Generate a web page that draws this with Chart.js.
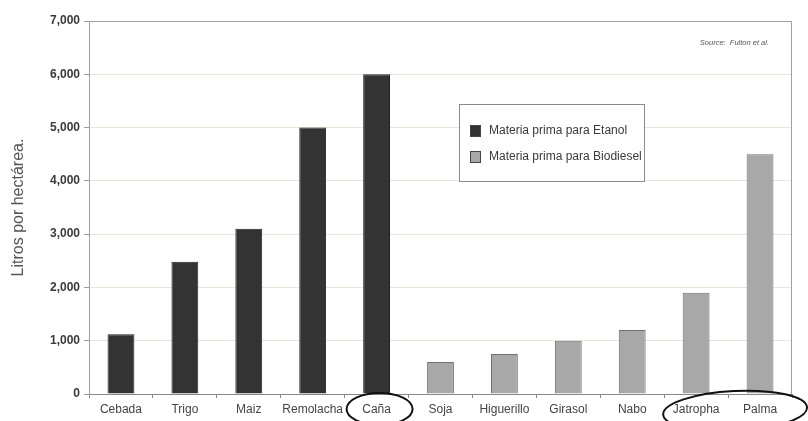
<!DOCTYPE html>
<html>
<head>
<meta charset="utf-8">
<script src="https://cdn.jsdelivr.net/npm/chart.js@4.4.1/dist/chart.umd.min.js"></script>
<style>
  html, body { margin: 0; padding: 0; background: #fff; }
  #wrap { width: 808px; height: 421px; }
</style>
</head>
<body>
<div id="wrap"><canvas id="mainChart" width="808" height="421"></canvas></div>
<script>
// Data
const cultivos = ['Cebada', 'Trigo', 'Maiz', 'Remolacha', 'Caña', 'Soja', 'Higuerillo', 'Girasol', 'Nabo', 'Jatropha', 'Palma'];
const etanol = [1120, 2480, 3100, 5000, 6000, null, null, null, null, null, null];
const biodiesel = [null, null, null, null, null, 600, 750, 1000, 1200, 1900, 4500];
const yTicks = [0, 1000, 2000, 3000, 4000, 5000, 6000, 7000];
const fuente = 'Source:  Fulton et al.';

const FONT = 'Arial, "Liberation Sans", sans-serif';

// Legend box drawn inside the plot, plus the source note
const insideLegend = {
    id: 'insideLegend',
    afterDraw(chart) {
        const ctx = chart.ctx;
        const a = chart.chartArea;
        const bx = 459, by = 104, bw = 185, bh = 77;
        ctx.save();
        ctx.fillStyle = '#fff';
        ctx.fillRect(bx, by, bw, bh);
        ctx.strokeStyle = '#8a8a8a';
        ctx.lineWidth = 1;
        ctx.strokeRect(bx + 0.5, by + 0.5, bw, bh);

        chart.data.datasets.forEach((ds, i) => {
            const cy = by + 27 + i * 26;
            ctx.fillStyle = ds.backgroundColor;
            ctx.fillRect(bx + 11, cy - 6, 11, 12);
            ctx.strokeStyle = '#444';
            ctx.strokeRect(bx + 11.5, cy - 5.5, 10, 11);
            ctx.fillStyle = '#3a3a3a';
            ctx.font = '12px ' + FONT;
            ctx.textBaseline = 'middle';
            ctx.textAlign = 'left';
            ctx.fillText(ds.label, bx + 30, cy);
        });

        ctx.font = 'italic 7.5px ' + FONT;
        ctx.fillStyle = '#555';
        ctx.textAlign = 'right';
        ctx.textBaseline = 'middle';
        ctx.fillText(fuente, a.right - 23, 43);
        ctx.restore();
    }
};

// Frame around the plot and hand drawn ellipses around some labels
const marcas = {
    id: 'marcas',
    afterDraw(chart) {
        const ctx = chart.ctx;
        const a = chart.chartArea;
        const x = chart.scales.x;
        ctx.save();
        ctx.strokeStyle = '#a0a0a0';
        ctx.lineWidth = 1;
        ctx.beginPath();
        ctx.moveTo(a.left + 0.5, a.bottom);
        ctx.lineTo(a.left + 0.5, a.top + 0.5);
        ctx.lineTo(a.right - 0.5, a.top + 0.5);
        ctx.lineTo(a.right - 0.5, a.bottom);
        ctx.stroke();

        ctx.strokeStyle = '#111';
        ctx.lineWidth = 2;
        const c1 = x.getPixelForValue(4);
        ctx.beginPath();
        ctx.ellipse(c1 + 3, 409, 33, 16, 0, 0, Math.PI * 2);
        ctx.stroke();

        const c2 = (x.getPixelForValue(9) + x.getPixelForValue(10)) / 2;
        ctx.beginPath();
        ctx.ellipse(c2 + 7, 411, 72, 20, -0.05, 0, Math.PI * 2);
        ctx.stroke();
        ctx.restore();
    }
};

const ctx = document.getElementById('mainChart').getContext('2d');

const chart = new Chart(ctx, {
    type: 'bar',
    data: {
        labels: cultivos,
        datasets: [
            {
                label: 'Materia prima para Etanol',
                data: etanol,
                backgroundColor: '#333333',
                borderColor: '#222222',
                borderWidth: 1
            },
            {
                label: 'Materia prima para Biodiesel',
                data: biodiesel,
                backgroundColor: '#a8a8a8',
                borderColor: '#6e6e78',
                borderWidth: 1
            }
        ]
    },
    options: {
        responsive: false,
        animation: false,
        grouped: false,
        barPercentage: 0.42,
        categoryPercentage: 1,
        layout: { padding: { top: 21, right: 16, left: 0, bottom: 0 } },
        plugins: {
            legend: { display: false },
            tooltip: { enabled: false }
        },
        scales: {
            x: {
                offset: true,
                grid: {
                    offset: true,
                    drawOnChartArea: false,
                    tickLength: 4,
                    tickColor: '#888'
                },
                border: { color: '#888' },
                ticks: {
                    color: '#444',
                    font: { family: FONT, size: 12 },
                    padding: 4,
                    maxRotation: 0,
                    autoSkip: false
                },
                afterFit(scale) { scale.height = 27; }
            },
            y: {
                min: 0,
                max: 7000,
                afterBuildTicks(scale) {
                    scale.ticks = yTicks.map(v => ({ value: v }));
                },
                grid: {
                    color: '#e6e6da',
                    tickColor: '#999',
                    tickLength: 5
                },
                border: { color: '#a0a0a0' },
                ticks: {
                    color: '#3a3a3a',
                    font: { family: FONT, size: 12, weight: 'bold' },
                    padding: 4,
                    callback: v => v.toLocaleString('en-US')
                },
                title: {
                    display: true,
                    text: 'Litros por hectárea.',
                    color: '#555',
                    font: { family: FONT, size: 16 },
                    padding: { top: 9, bottom: 0 }
                },
                afterFit(scale) { scale.width = 89; }
            }
        }
    },
    plugins: [marcas, insideLegend]
});
</script>
</body>
</html>
